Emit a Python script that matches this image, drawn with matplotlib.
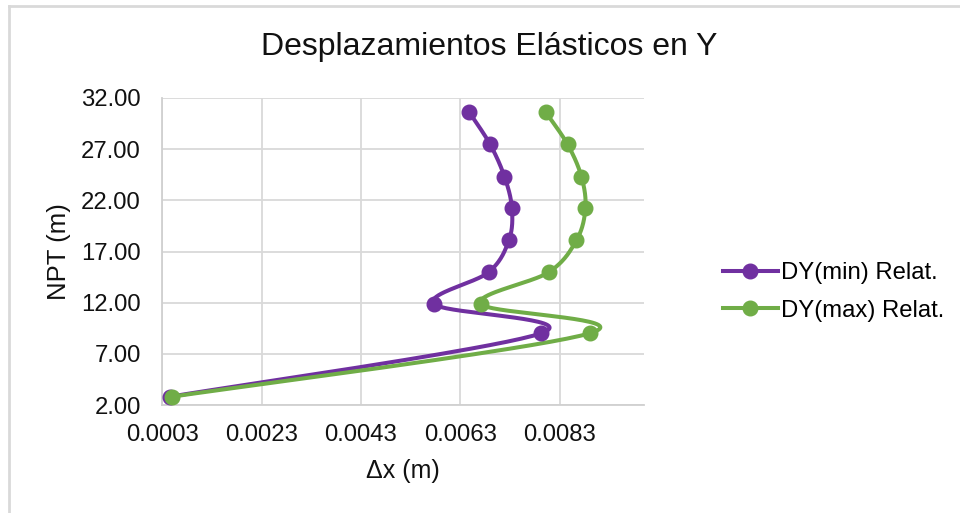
import numpy as np
import matplotlib
matplotlib.use("Agg")
import matplotlib.pyplot as plt
from matplotlib.lines import Line2D

plt.rcParams['font.family'] = ['Liberation Sans', 'DejaVu Sans']

# Story levels (m) and relative elastic displacements (m)
npt = [2.81, 9.01, 11.87, 14.97, 18.10, 21.23, 24.32, 27.48, 30.61]
dy_min = [0.000455, 0.00793, 0.00577, 0.00687, 0.00728, 0.00734, 0.00719, 0.00690, 0.00648]
dy_max = [0.000495, 0.00891, 0.00671, 0.00808, 0.00864, 0.00882, 0.00874, 0.00846, 0.00802]

series_labels = ["DY(min) Relat.", "DY(max) Relat."]
series_colors = ["#7030A0", "#70AD47"]

x_ticks = [0.0003, 0.0023, 0.0043, 0.0063, 0.0083]
y_ticks = [2, 7, 12, 17, 22, 27, 32]

W, H = 960, 513
fig = plt.figure(figsize=(W / 100, H / 100), dpi=100)
ax_l, ax_r, ax_t, ax_b = 162.3, 644, 98, 405
ax = fig.add_axes([ax_l / W, 1 - ax_b / H, (ax_r - ax_l) / W, (ax_b - ax_t) / H])

ax.set_xlim(0.0003, 0.0100)
ax.set_ylim(2, 32)
ax.set_xticks(x_ticks)
ax.set_xticklabels([f"{v:.4f}" for v in x_ticks])
ax.set_yticks(y_ticks)
ax.set_yticklabels([f"{v:.2f}" for v in y_ticks])
ax.grid(True, color="#d9d9d9", linewidth=1.3)
ax.set_axisbelow(True)
for s in ["top", "right"]:
    ax.spines[s].set_visible(False)
for s in ["left", "bottom"]:
    ax.spines[s].set_color("#d0d0d0")
    ax.spines[s].set_linewidth(1.3)
ax.tick_params(length=0, labelsize=17.2, colors="#111111")
ax.tick_params(axis="x", pad=14)
ax.tick_params(axis="y", pad=15.5)


def smooth_curve(xs, ys, n=40):
    """Bezier smoothing (Catmull-Rom style) computed in display space."""
    pts = ax.transData.transform(np.column_stack([xs, ys]))
    m = len(pts)
    out = [pts[0]]
    t = np.linspace(0, 1, n)[1:]
    for i in range(m - 1):
        p0 = pts[i - 1] if i > 0 else pts[i]
        p1 = pts[i]
        p2 = pts[i + 1]
        p3 = pts[i + 2] if i + 2 < m else pts[i + 1]
        c1 = p1 + (p2 - p0) / 6.0
        c2 = p2 - (p3 - p1) / 6.0
        seg = ((1 - t) ** 3)[:, None] * p1 + (3 * (1 - t) ** 2 * t)[:, None] * c1 \
            + (3 * (1 - t) * t ** 2)[:, None] * c2 + (t ** 3)[:, None] * p2
        out.extend(seg)
    out = np.array(out)
    data = ax.transData.inverted().transform(out)
    return data[:, 0], data[:, 1]


handles = []
for xs, lab, col in zip([dy_min, dy_max], series_labels, series_colors):
    sx, sy = smooth_curve(xs, npt)
    ax.plot(sx, sy, color=col, linewidth=2.9, solid_capstyle="round",
            solid_joinstyle="round", zorder=3, clip_on=False)
    ax.plot(xs, npt, linestyle="none", marker="o", markersize=10.5, color=col,
            zorder=4, clip_on=False)
    handles.append(Line2D([0], [0], color=col, linewidth=2.9, marker="o", markersize=10.5))

fig.legend(handles, series_labels, loc="center left", bbox_to_anchor=(711 / W, 1 - 292 / H),
           frameon=False, fontsize=17.2, handlelength=2.3, handletextpad=0.15,
           labelspacing=0.65, borderpad=0)

fig.text(489 / W, 1 - 47 / H, "Desplazamientos Elásticos en Y", ha="center", va="center",
         fontsize=23, color="#111111")
fig.text((ax_l + ax_r) / 2 / W, 1 - 471 / H, "\u0394x (m)", ha="center", va="center",
         fontsize=18, color="#111111")
fig.text(59 / W, 1 - 252 / H, "NPT (m)", ha="center", va="center", rotation=90,
         fontsize=18.5, color="#111111")

# chart area border (left and top edges)
fig.add_artist(Line2D([9 / W, 9 / W], [0, 1 - 6 / H], transform=fig.transFigure,
                      color="#d9d9d9", linewidth=2))
fig.add_artist(Line2D([9 / W, 1], [1 - 6 / H, 1 - 6 / H], transform=fig.transFigure,
                      color="#d9d9d9", linewidth=2))

fig.savefig("out.png", dpi=100, facecolor="white")
